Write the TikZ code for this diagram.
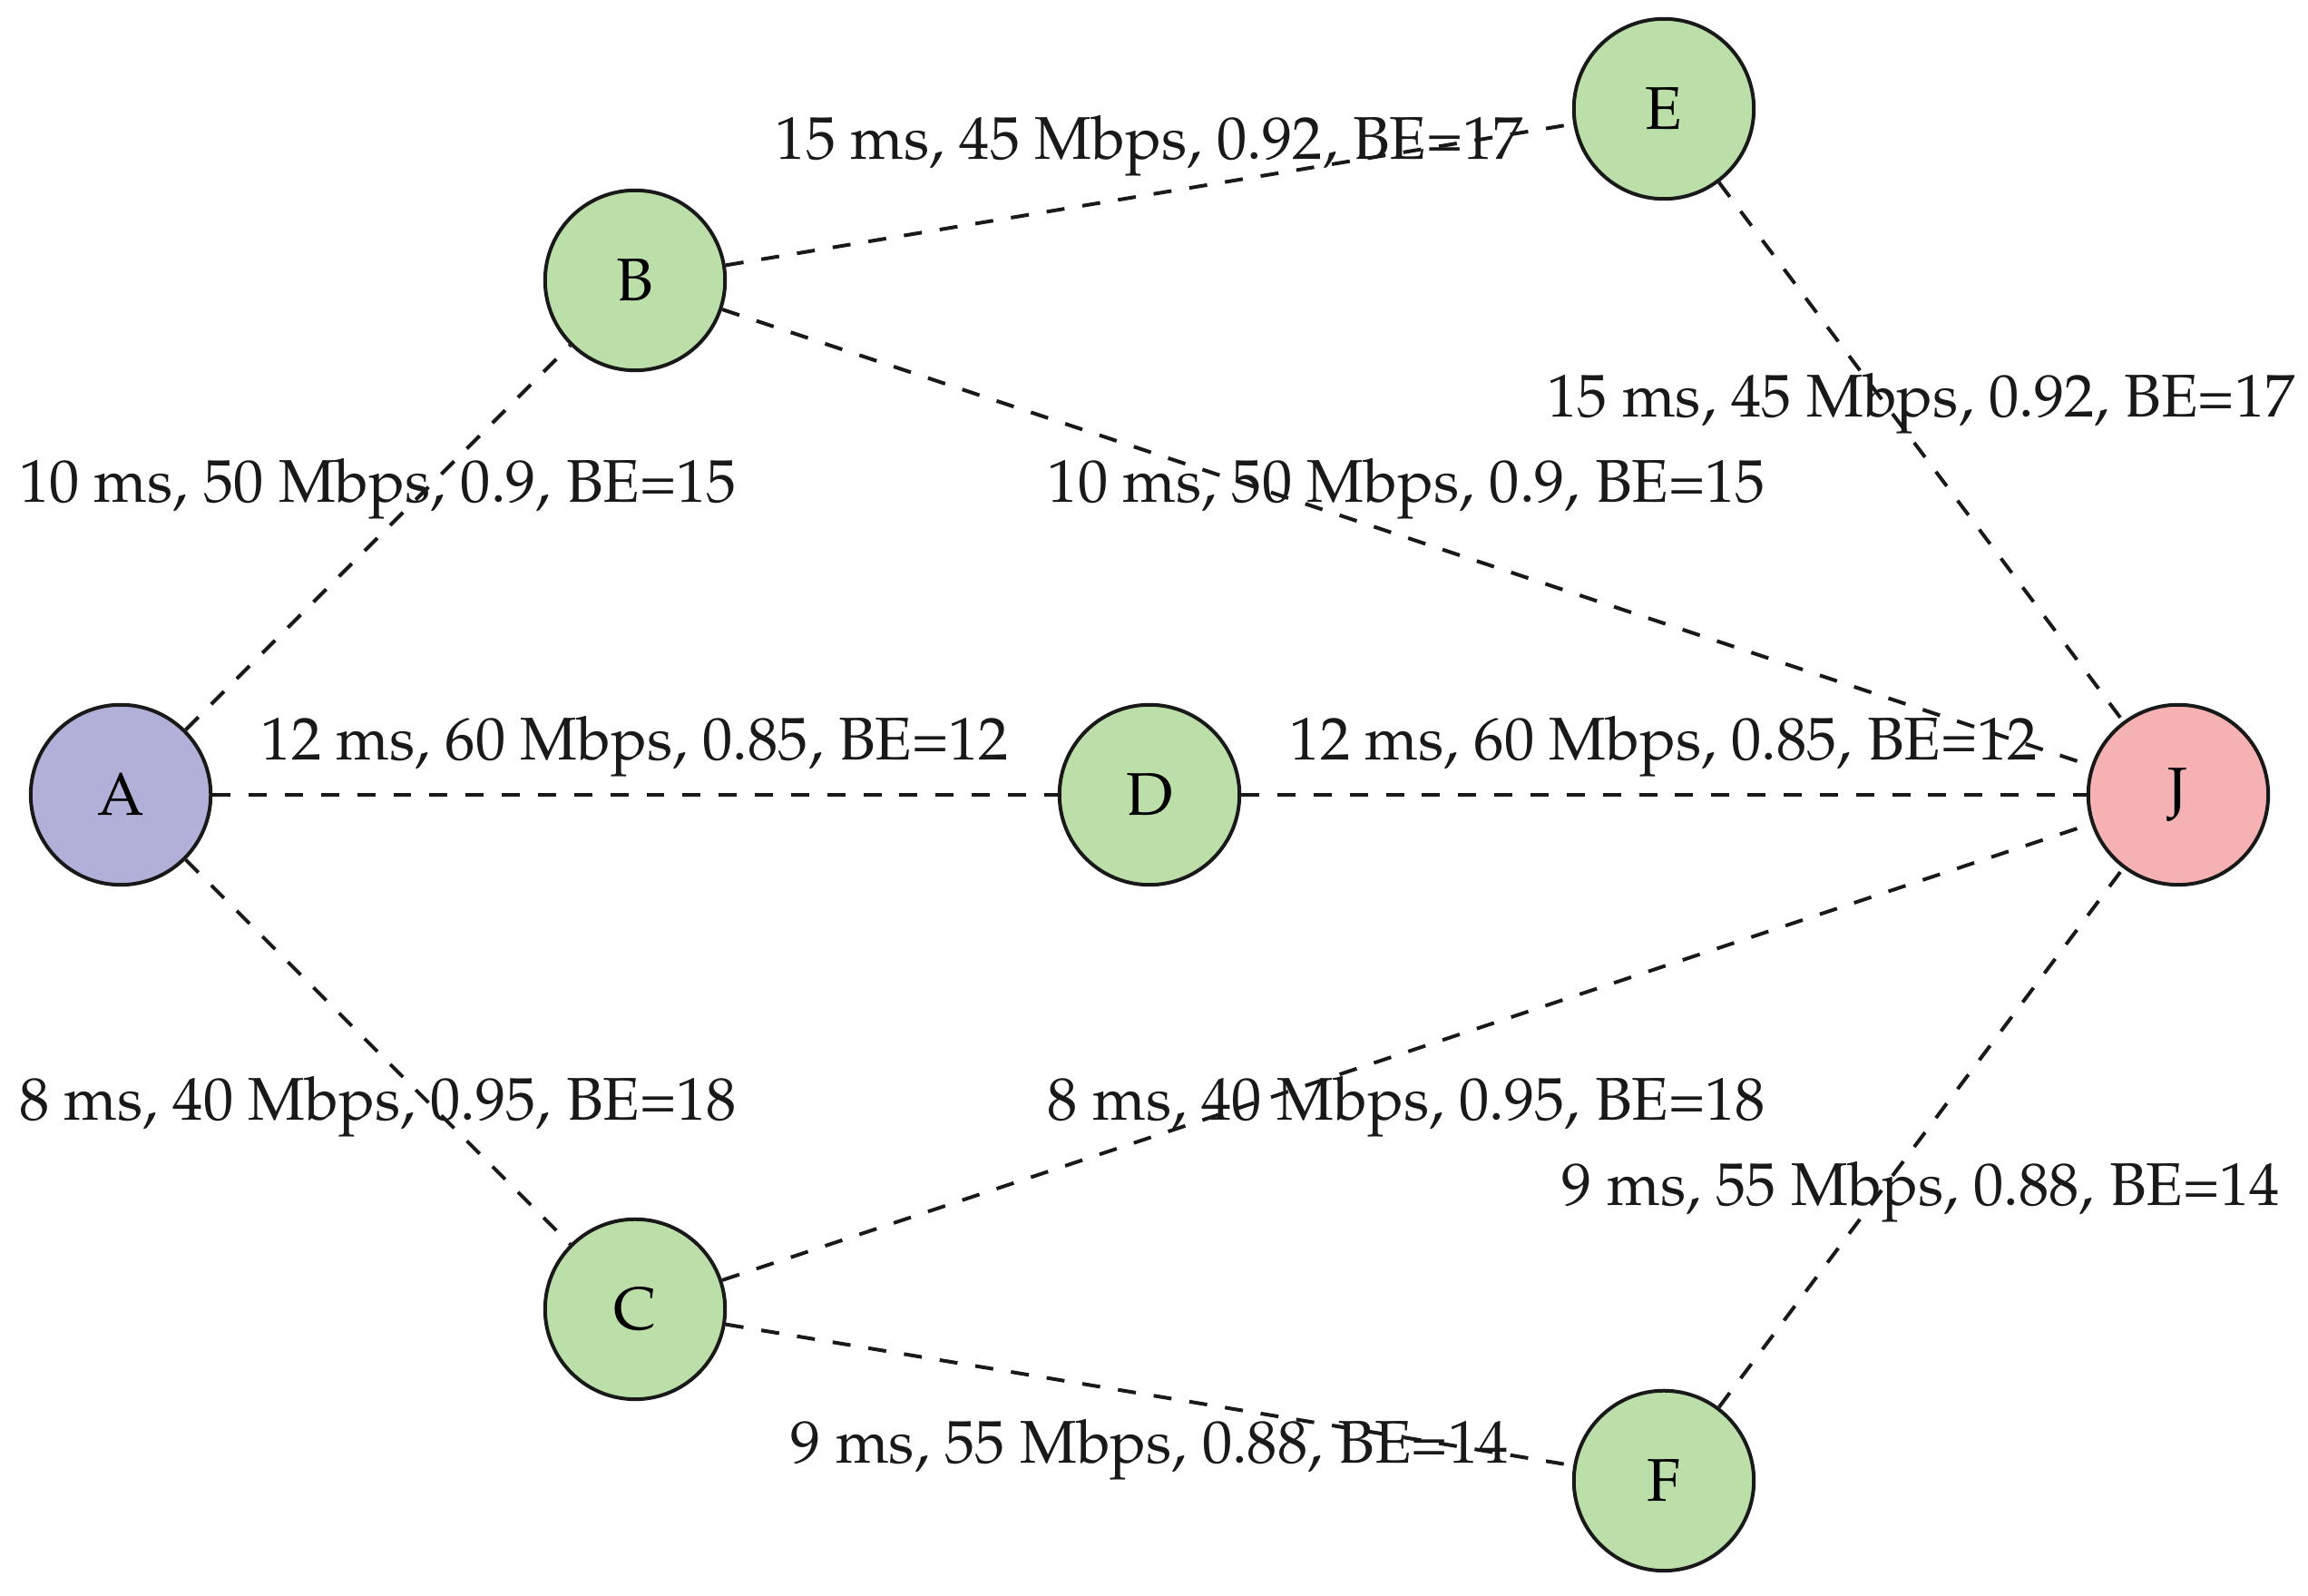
\documentclass[tikz,border=0pt]{standalone}
\usepackage[T1]{fontenc}
\usepackage{mathpazo}
\definecolor{srcfill}{RGB}{176,176,216}
\definecolor{midfill}{RGB}{188,223,169}
\definecolor{dstfill}{RGB}{246,178,178}
\begin{document}
\begin{tikzpicture}[
  netnode/.style={circle, draw=black!90, line width=0.6pt, minimum size=1.05cm, inner sep=0pt, font=\normalsize},
  link/.style={dashed, line width=0.6pt, black!90},
  lab/.style={font=\normalsize, inner sep=2pt}
]
\useasboundingbox (-0.704,-4.672) rectangle (12.757,4.635);
\node[netnode, fill=srcfill] (A) at (0,0) {A};
\node[netnode, fill=midfill] (B) at (3,3) {B};
\node[netnode, fill=midfill] (C) at (3,-3) {C};
\node[netnode, fill=midfill] (D) at (6,0) {D};
\node[netnode, fill=midfill] (E) at (9,4) {E};
\node[netnode, fill=midfill] (F) at (9,-4) {F};
\node[netnode, fill=dstfill] (J) at (12,0) {J};
\draw[link] (A) -- node[lab, above=0.025cm] {10 ms, 50 Mbps, 0.9, BE=15} (B);
\draw[link] (A) -- node[lab, above=0.025cm] {12 ms, 60 Mbps, 0.85, BE=12} (D);
\draw[link] (A) -- node[lab, below=0.06cm] {8 ms, 40 Mbps, 0.95, BE=18} (C);
\draw[link] (B) -- node[lab, above=0.025cm] {15 ms, 45 Mbps, 0.92, BE=17} (E);
\draw[link] (B) -- node[lab, above=0.025cm] {10 ms, 50 Mbps, 0.9, BE=15} (J);
\draw[link] (D) -- node[lab, above=0.025cm] {12 ms, 60 Mbps, 0.85, BE=12} (J);
\draw[link] (C) -- node[lab, below=0.06cm] {8 ms, 40 Mbps, 0.95, BE=18} (J);
\draw[link] (C) -- node[lab, below=0.06cm] {9 ms, 55 Mbps, 0.88, BE=14} (F);
\draw[link] (E) -- node[lab, above=0.025cm] {15 ms, 45 Mbps, 0.92, BE=17} (J);
\draw[link] (F) -- node[lab, below=0.06cm] {9 ms, 55 Mbps, 0.88, BE=14} (J);
\end{tikzpicture}
\end{document}
